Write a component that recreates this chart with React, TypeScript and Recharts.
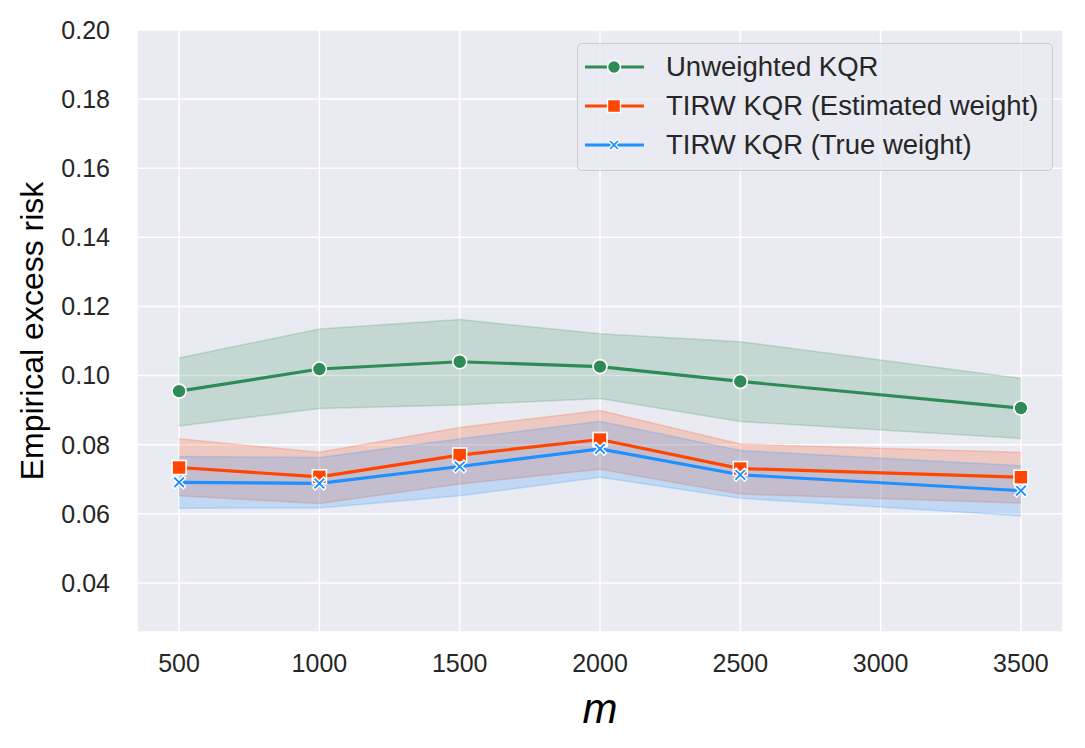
import React from "react";
import { Area, CartesianGrid, ComposedChart, Line, XAxis, YAxis } from "recharts";

const mValues = [500, 1000, 1500, 2000, 2500, 3500];

const unweighted = [0.0955, 0.1019, 0.104, 0.1026, 0.0983, 0.0906];
const unweightedLow = [0.0854, 0.0905, 0.0915, 0.0934, 0.0867, 0.0818];
const unweightedHigh = [0.1051, 0.1135, 0.1162, 0.1121, 0.1098, 0.0992];

const estimated = [0.0734, 0.0707, 0.077, 0.0815, 0.0731, 0.0706];
const estimatedLow = [0.0652, 0.063, 0.0686, 0.0729, 0.0657, 0.0631];
const estimatedHigh = [0.0817, 0.0778, 0.085, 0.0899, 0.0802, 0.0778];

const trueW = [0.0691, 0.0688, 0.0737, 0.0788, 0.0713, 0.0667];
const trueLow = [0.0616, 0.0617, 0.0652, 0.0706, 0.0645, 0.0594];
const trueHigh = [0.0766, 0.0763, 0.0817, 0.0868, 0.0783, 0.0739];

const xTicks = [500, 1000, 1500, 2000, 2500, 3000, 3500];
const yTicks = [0.04, 0.06, 0.08, 0.1, 0.12, 0.14, 0.16, 0.18, 0.2];

const data = mValues.map((m, i) => ({
  m,
  g: unweighted[i],
  gBand: [unweightedLow[i], unweightedHigh[i]],
  o: estimated[i],
  oBand: [estimatedLow[i], estimatedHigh[i]],
  b: trueW[i],
  bBand: [trueLow[i], trueHigh[i]],
}));

const GREEN = "#2E8B57";
const ORANGE = "#FF4500";
const BLUE = "#1E90FF";
const FONT = "'Liberation Sans', Arial, sans-serif";

const circle = (r: number) => (p: any) =>
  p.cx == null ? null : (
    <circle key={p.index} cx={p.cx} cy={p.cy} r={r} fill={GREEN} stroke="#fff" strokeWidth={1.6} />
  );

const square = (s: number) => (p: any) =>
  p.cx == null ? null : (
    <rect key={p.index} x={p.cx - s / 2} y={p.cy - s / 2} width={s} height={s} fill={ORANGE} stroke="#fff" strokeWidth={1.6} />
  );

const xPath = (cx: number, cy: number, s: number, w: number) => {
  const pts = [
    [-s, -s + w], [-s + w, -s], [0, -w], [s - w, -s], [s, -s + w], [w, 0],
    [s, s - w], [s - w, s], [0, w], [-s + w, s], [-s, s - w], [-w, 0],
  ];
  return "M" + pts.map(([x, y]) => `${cx + x},${cy + y}`).join("L") + "Z";
};

const cross = (s: number, w: number) => (p: any) =>
  p.cx == null ? null : (
    <path key={p.index} d={xPath(p.cx, p.cy, s, w)} fill={BLUE} stroke="#fff" strokeWidth={1.4} />
  );

const legendItems = [
  { label: "Unweighted KQR", color: GREEN, marker: "circle" },
  { label: "TIRW KQR (Estimated weight)", color: ORANGE, marker: "square" },
  { label: "TIRW KQR (True weight)", color: BLUE, marker: "x" },
];

function LegendBox() {
  return (
    <div
      style={{
        position: "absolute",
        left: 577,
        top: 43,
        width: 476,
        height: 128,
        background: "rgba(234,234,242,0.8)",
        border: "1.5px solid #cccccc",
        borderRadius: 5,
        boxSizing: "border-box",
        padding: "3px 0 0 0",
        fontFamily: FONT,
        fontSize: 27.5,
        color: "#262626",
      }}
    >
      {legendItems.map((it) => (
        <div key={it.label} style={{ display: "flex", alignItems: "center", height: 39 }}>
          <svg width={88} height={30}>
            <line x1={7} x2={66} y1={15} y2={15} stroke={it.color} strokeWidth={3.2} />
            {it.marker === "circle" && <circle cx={36} cy={15} r={6.5} fill={it.color} stroke="#fff" strokeWidth={1.5} />}
            {it.marker === "square" && <rect x={29.5} y={8.5} width={13} height={13} fill={it.color} stroke="#fff" strokeWidth={1.5} />}
            {it.marker === "x" && <path d={xPath(36, 15, 5.5, 2)} fill={it.color} stroke="#fff" strokeWidth={1.2} />}
          </svg>
          <span>{it.label}</span>
        </div>
      ))}
    </div>
  );
}

export default function App() {
  return (
    <div style={{ position: "absolute", left: 0, top: 0, width: 1085, height: 748, background: "#fff" }}>
      <ComposedChart
        width={1085}
        height={748}
        data={data}
        margin={{ top: 30, right: 22, bottom: 86, left: 77 }}
      >
        <CartesianGrid fill="#EAEAF2" stroke="#fff" strokeWidth={1.5} />
        <XAxis
          dataKey="m"
          type="number"
          domain={[350, 3650]}
          ticks={xTicks}
          allowDataOverflow
          axisLine={false}
          tickLine={false}
          height={30}
          tickMargin={16}
          tick={{ fontSize: 25, fill: "#262626", fontFamily: FONT }}
          label={{
            content: (p: any) => (
              <text
                x={p.viewBox.x + p.viewBox.width / 2}
                y={p.viewBox.y + 91}
                textAnchor="middle"
                fontFamily={FONT}
                fontStyle="italic"
                fontSize={42}
                fill="#000"
              >
                m
              </text>
            ),
          }}
        />
        <YAxis
          type="number"
          domain={[0.0258, 0.2]}
          ticks={yTicks}
          allowDataOverflow
          axisLine={false}
          tickLine={false}
          width={60}
          tickMargin={21}
          tickFormatter={(v: number) => v.toFixed(2)}
          tick={{ fontSize: 25, fill: "#262626", fontFamily: FONT }}
          label={{
            content: (p: any) => (
              <text
                transform={`translate(${p.viewBox.x - 34}, ${p.viewBox.y + p.viewBox.height / 2}) rotate(-90)`}
                textAnchor="middle"
                fontFamily={FONT}
                fontSize={32}
                fill="#000"
              >
                Empirical excess risk
              </text>
            ),
          }}
        />
        <Area dataKey="gBand" stroke={GREEN} strokeOpacity={0.2} strokeWidth={1.5} fill={GREEN} fillOpacity={0.2} isAnimationActive={false} dot={false} activeDot={false} />
        <Area dataKey="oBand" stroke={ORANGE} strokeOpacity={0.2} strokeWidth={1.5} fill={ORANGE} fillOpacity={0.2} isAnimationActive={false} dot={false} activeDot={false} />
        <Area dataKey="bBand" stroke={BLUE} strokeOpacity={0.2} strokeWidth={1.5} fill={BLUE} fillOpacity={0.2} isAnimationActive={false} dot={false} activeDot={false} />
        <Line dataKey="g" stroke={GREEN} strokeWidth={3.2} dot={circle(7)} activeDot={false} isAnimationActive={false} />
        <Line dataKey="o" stroke={ORANGE} strokeWidth={3.2} dot={square(14)} activeDot={false} isAnimationActive={false} />
        <Line dataKey="b" stroke={BLUE} strokeWidth={3.2} dot={cross(6.5, 2.3)} activeDot={false} isAnimationActive={false} />
      </ComposedChart>
      <LegendBox />
    </div>
  );
}
